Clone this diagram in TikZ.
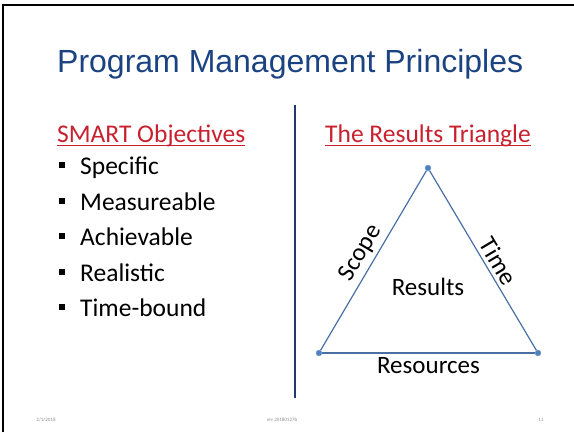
\documentclass[tikz,border=0pt]{standalone}
\usepackage{fontspec}
\setmainfont{Carlito}
\newfontfamily\titlefont{Liberation Sans}
\definecolor{titleblue}{HTML}{1B4382}
\definecolor{headred}{HTML}{C8202F}
\definecolor{edgeblue}{HTML}{4A6FA5}
\definecolor{dotblue}{HTML}{4F81BD}
\definecolor{rulenavy}{HTML}{1F3A6E}
\tikzset{
  heading/.style={anchor=base west, inner sep=0pt, text=headred, font=\fontsize{25.5}{30}\selectfont},
  item/.style={anchor=base west, inner sep=0pt, font=\fontsize{25.5}{30}\selectfont},
  bullet/.style={fill=black, minimum size=6pt, inner sep=0pt},
  vertex/.style={circle, fill=dotblue, draw=dotblue!70!white, minimum size=6pt, inner sep=0pt},
  side/.style={text=black, font=\fontsize{25}{30}\selectfont},
  footer/.style={text=black!45, font=\fontsize{5}{6}\selectfont},
}
\begin{document}
\begin{tikzpicture}[x=1pt,y=1pt]
  \useasboundingbox (0,0) rectangle (574,-432);
  % slide frame
  \draw[line width=2.4pt] (3,-432) -- (3,-5) -- (574,-5);
  % title
  \node[anchor=base west, inner sep=0pt, text=titleblue, font=\titlefont\fontsize{32}{38}\selectfont]
    (title) at (57,-72) {Program Management Principles};
  % divider
  \coordinate (divtop) at (295,-105);
  \coordinate (divbot) at (295,-398);
  \draw[rulenavy, line width=1.3pt] (divtop) -- (divbot);
  % left column
  \node[heading] (smart) at (57,-142) {SMART Objectives};
  \draw[headred, line width=1pt] ([yshift=-3pt]smart.base west) -- ([yshift=-3pt]smart.base east);
  \node[bullet] (b1) at (62,-165) {};
  \node[item] (i1) at (80,-174) {Specific};
  \node[bullet] (b2) at (62,-201) {};
  \node[item] (i2) at (80,-210) {Measureable};
  \node[bullet] (b3) at (62,-236) {};
  \node[item] (i3) at (80,-245) {Achievable};
  \node[bullet] (b4) at (62,-272) {};
  \node[item] (i4) at (80,-281) {Realistic};
  \node[bullet] (b5) at (62,-307) {};
  \node[item] (i5) at (80,-316) {Time-bound};
  % right column
  \node[heading] (triangle) at (325,-142) {The Results Triangle};
  \draw[headred, line width=1pt] ([yshift=-3pt]triangle.base west) -- ([yshift=-3pt]triangle.base east);
  \draw
    (428,-168) node[vertex] (top) {}
    (319,-353) node[vertex] (left) {}
    (538,-353) node[vertex] (right) {};
  \begin{scope}[edgeblue, line width=1.2pt]
    \draw (left) to node[side, sloped, above, inner sep=4pt] (scope) {Scope} (top);
    \draw (top) to node[side, sloped, above, inner sep=4pt, pos=0.54] (time) {Time} (right);
    \draw (left) to node[side, below, inner sep=4pt] (resources) {Resources} (right);
  \end{scope}
  \node[side] (results) at (428,-287) {Results};
  % footer
  \node[footer] (date) at (46,-420) {2/1/2018};
  \node[footer] (rev) at (282,-420) {rev 20180127b};
  \node[footer] (page) at (541,-420) {11};
\end{tikzpicture}
\end{document}
